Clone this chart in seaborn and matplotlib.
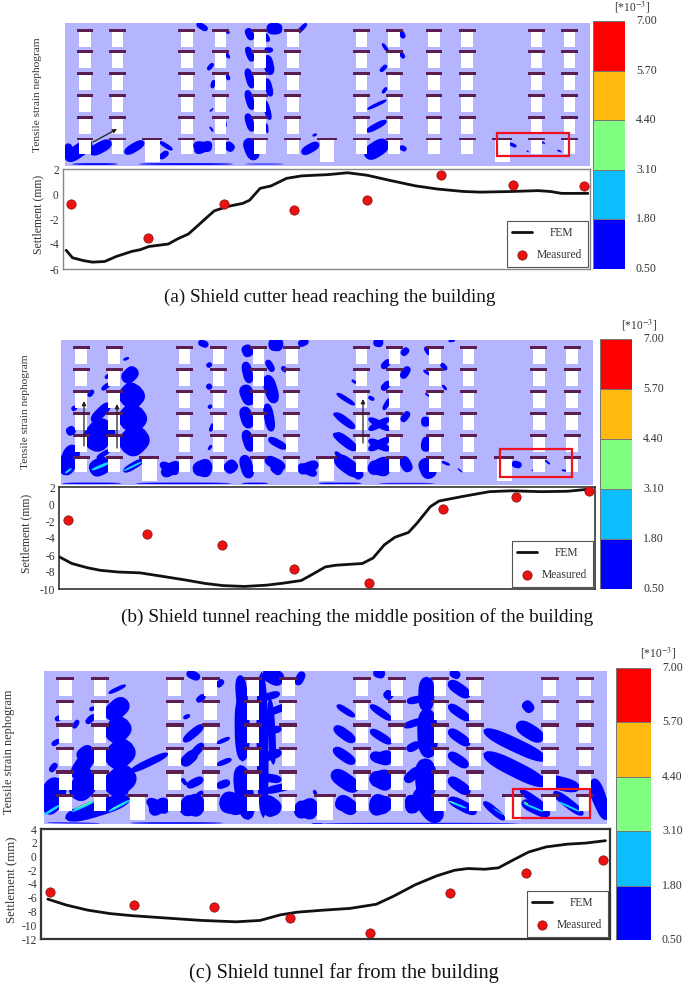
import numpy as np
import matplotlib
matplotlib.use("Agg")
import matplotlib.pyplot as plt
from matplotlib.colors import ListedColormap, BoundaryNorm
from matplotlib.patches import Rectangle
import seaborn as sns

W, H = 685, 984

# settlement curves, x is percent of the plot width
a_fem_x = [0.6, 1.8, 3.9, 5.6, 7.9, 10.1, 13, 14.7, 16.3, 20, 21.7, 23.8, 25.4, 27.1, 28.7, 31.2, 34.1, 35.4, 37.4, 39.5,
           42.4, 45.3, 50.3, 54, 57.7, 61.9, 66.9, 71, 76, 79.3, 85.1, 90.1, 92.5, 94.6, 99.6]
a_fem_y = [-4.5, -5.1, -5.33, -5.45, -5.4, -5.0, -4.6, -4.45, -4.2, -4.0, -3.6, -3.2, -2.6, -1.95, -1.35, -1.0, -0.75, -0.5,
           0.45, 0.65, 1.25, 1.45, 1.55, 1.7, 1.5, 1.1, 0.65, 0.4, 0.2, 0.15, 0.2, 0.27, 0.2, 0.05, 0.05]
a_meas_x = [1.6, 16.2, 30.5, 43.8, 57.7, 71.7, 85.3, 98.9]
a_meas_y = [-0.76, -3.5, -0.8, -1.25, -0.5, 1.5, 0.72, 0.62]

b_fem_x = [0, 2.4, 5.3, 7.7, 11, 15.1, 19.2, 23.2, 27.3, 30.6, 34.6, 38.7, 42, 45.2, 47.2, 49.7, 51.7, 56.6, 58.6, 60.7,
           62.7, 65.2, 66.8, 69.3, 70.9, 75.4, 80.3, 84.3, 90, 94.9, 99]
b_fem_y = [-6.2, -7, -7.5, -7.8, -8, -8.1, -8.5, -8.9, -9.35, -9.6, -9.7, -9.55, -9.3, -9, -8.3, -7.4, -7.2, -7, -6.35, -4.8,
           -3.9, -3.35, -2.25, -0.3, 0.35, 0.9, 1.45, 1.55, 1.45, 1.5, 1.75]
b_meas_x = [1.6, 16.4, 30.5, 43.8, 57.8, 71.7, 85.2, 98.8]
b_meas_y = [-1.9, -3.5, -4.8, -7.6, -9.3, -0.6, 0.85, 1.5]

c_fem_x = [1.2, 4.4, 8.2, 12.1, 15.9, 22, 28.2, 34.3, 38.5, 42, 45, 49.7, 54.3, 58.9, 61.9, 65.8, 69.6, 72.7, 75, 78,
           80.4, 83, 85.7, 88.8, 92.6, 95.7, 99.2]
c_fem_y = [-6.2, -7.05, -7.8, -8.3, -8.6, -8.95, -9.3, -9.5, -9.3, -8.5, -8.1, -7.8, -7.55, -6.95, -5.8, -4.1, -2.8, -2,
           -1.75, -1.85, -1.65, -0.5, 0.65, 1.4, 1.8, 1.95, 2.3]
c_meas_x = [1.5, 16.3, 30.4, 43.8, 57.8, 71.8, 85.3, 98.8]
c_meas_y = [-5.2, -7, -7.4, -8.9, -11.1, -5.25, -2.4, -0.5]

# building layout, percent of the nephogram
window_cols = [3.8, 10.0, 23.2, 29.6, 37.1, 43.4, 56.5, 62.7, 70.3, 76.6, 89.8, 96.1]
door_cols = [16.6, 49.9, 83.3]
floor_rows = [5.1, 20.2, 35.3, 50.6, 66.0, 81.1]

# colour scale
scale_levels = [7.00, 5.70, 4.40, 3.10, 1.80, 0.50]
scale_colors = ["#0000ff", "#0dbeff", "#80ff80", "#ffb90f", "#ff0000"]
band_values = [6.35, 5.05, 3.75, 2.45, 1.15]

a_blobs = [
    (150, 480, 210, 425, 30), (155, 430, 160, 480, 20), (205, 460, 255, 425, 25), (285, 460, 330, 425, 20),
    (365, 475, 385, 455, 14), (365, 425, 395, 450, 10), (442, 435, 485, 445, 22), (445, 455, 485, 430, 22),
    (515, 430, 535, 450, 20), (450, 70, 475, 90, 14), (475, 210, 488, 190, 10), (485, 265, 490, 240, 10),
    (515, 155, 525, 175, 8), (515, 220, 525, 240, 10), (515, 90, 525, 100, 8), (480, 335, 488, 325, 4),
    (480, 380, 488, 395, 5), (515, 360, 518, 380, 4), (565, 85, 578, 120, 18), (565, 140, 578, 185, 16),
    (565, 205, 578, 265, 18), (565, 270, 578, 330, 18), (565, 340, 578, 395, 18), (565, 415, 585, 480, 30),
    (605, 100, 615, 125, 12), (610, 165, 620, 225, 22), (610, 235, 620, 290, 16), (605, 300, 618, 360, 14),
    (610, 370, 612, 400, 6), (628, 68, 628, 104, 35), (680, 100, 702, 70, 10), (605, 150, 625, 150, 12),
    (690, 460, 730, 430, 20), (715, 408, 725, 402, 6), (840, 328, 885, 300, 8), (838, 395, 885, 362, 14),
    (835, 470, 888, 425, 35), (875, 130, 888, 155, 8), (915, 90, 925, 115, 12), (915, 155, 925, 175, 10),
    (870, 215, 885, 195, 10), (875, 280, 885, 262, 8), (915, 440, 930, 450, 12), (1003, 430, 1005, 435, 3),
    (1165, 430, 1182, 440, 8), (1205, 452, 1210, 456, 3), (1240, 425, 1247, 432, 4), (1275, 450, 1285, 456, 4),
    (165, 492, 270, 492, 4), (315, 492, 535, 492, 4), (560, 492, 650, 492, 2),
]
b_left_blobs = [
    (430, 20, 460, 32, 14), (205, 75, 222, 68, 6), (205, 140, 245, 100, 28), (205, 210, 255, 155, 50),
    (205, 280, 260, 220, 55), (205, 350, 270, 285, 55), (110, 260, 165, 205, 20), (100, 340, 165, 260, 55),
    (150, 130, 165, 118, 8), (140, 165, 165, 145, 10), (100, 185, 115, 165, 10), (50, 225, 65, 215, 10),
    (35, 295, 60, 280, 18), (25, 420, 60, 330, 35), (105, 410, 165, 380, 35), (205, 410, 265, 375, 14),
    (125, 370, 165, 345, 10), (315, 385, 370, 415, 18), (320, 420, 375, 385, 24), (415, 395, 470, 410, 30),
    (415, 410, 470, 385, 30), (515, 380, 540, 410, 28), (455, 95, 470, 85, 10), (455, 160, 470, 150, 12),
    (460, 220, 470, 210, 8), (465, 290, 475, 265, 8), (460, 345, 470, 330, 6), (570, 30, 585, 65, 22),
    (570, 80, 585, 145, 20), (565, 150, 590, 210, 28), (565, 215, 585, 280, 25), (570, 285, 590, 350, 22),
    (565, 360, 585, 430, 25), (635, 75, 655, 110, 14), (635, 120, 660, 205, 26), (635, 205, 650, 290, 20),
    (640, 310, 695, 340, 16), (630, 370, 690, 400, 22), (650, 390, 680, 415, 20), (680, 95, 695, 110, 10),
    (730, 30, 760, 15, 15), (640, 25, 685, 30, 28), (730, 390, 785, 420, 18), (730, 410, 790, 385, 22),
    (845, 175, 870, 190, 6), (835, 235, 870, 255, 10), (835, 295, 870, 325, 12), (840, 350, 870, 380, 10),
    (320, 400, 375, 400, 16), (415, 400, 470, 398, 20),
    (20, 445, 200, 445, 3), (240, 445, 530, 445, 3), (560, 445, 640, 445, 3), (790, 445, 860, 445, 3),
]
b_left_cyan = [(30, 415, 50, 400, 6), (110, 405, 165, 382, 9), (205, 408, 262, 380, 6)]
b_right_blobs = [
    (115, 20, 145, 25, 18), (140, 100, 165, 75, 14), (200, 60, 220, 40, 14), (200, 130, 222, 95, 16),
    (140, 165, 165, 140, 14), (145, 225, 165, 190, 10), (200, 260, 222, 230, 14), (5, 175, 60, 210, 10),
    (0, 235, 60, 280, 16), (0, 295, 65, 345, 20), (0, 365, 75, 420, 30), (55, 400, 80, 430, 20),
    (100, 250, 165, 285, 14), (100, 285, 165, 250, 14), (100, 315, 165, 345, 16), (100, 345, 165, 310, 16),
    (100, 390, 165, 410, 28), (100, 410, 165, 375, 28), (200, 365, 225, 410, 22), (100, 185, 118, 195, 8),
    (50, 135, 65, 145, 6), (270, 35, 285, 60, 10), (318, 85, 335, 105, 10), (265, 105, 285, 120, 6),
    (270, 175, 285, 185, 4), (322, 150, 335, 165, 6), (258, 260, 285, 260, 20), (258, 325, 290, 330, 30),
    (265, 370, 290, 430, 32), (320, 380, 345, 390, 6), (368, 400, 382, 412, 3), (530, 385, 560, 392, 14),
    (590, 405, 597, 408, 3), (630, 375, 645, 388, 4), (680, 405, 695, 408, 4), (0, 445, 80, 445, 3),
    (130, 445, 300, 445, 2), (340, 18, 360, 16, 6),
]
c_left_blobs = [
    (440, 22, 480, 40, 16), (530, 65, 550, 45, 12), (205, 85, 258, 60, 8), (200, 160, 262, 105, 35),
    (205, 225, 262, 165, 45), (205, 300, 275, 235, 50), (14, 440, 60, 340, 45), (100, 340, 160, 255, 30),
    (100, 400, 165, 320, 45), (115, 285, 160, 250, 30), (30, 320, 50, 295, 12), (35, 240, 60, 225, 10),
    (45, 165, 65, 155, 10), (100, 190, 115, 165, 10), (138, 175, 165, 150, 12), (148, 135, 165, 128, 8),
    (200, 380, 280, 315, 50), (270, 320, 385, 265, 14), (75, 460, 270, 400, 30), (125, 405, 165, 370, 10),
    (225, 390, 265, 375, 15), (320, 405, 385, 440, 20), (330, 445, 385, 405, 25), (420, 440, 490, 400, 35),
    (425, 405, 490, 440, 35), (430, 160, 450, 150, 8), (425, 300, 470, 260, 22), (430, 230, 490, 180, 16),
    (445, 285, 490, 235, 16), (470, 110, 495, 90, 12), (530, 235, 570, 218, 8), (530, 300, 575, 282, 10),
    (440, 365, 490, 340, 16), (425, 340, 440, 360, 8), (530, 365, 570, 350, 15), (470, 390, 490, 380, 8),
    (600, 30, 610, 150, 22), (605, 90, 608, 290, 28), (600, 300, 625, 465, 35), (665, 20, 670, 460, 22),
    (670, 18, 730, 50, 30), (790, 20, 770, 60, 16), (665, 100, 720, 85, 14), (670, 150, 760, 115, 14),
    (680, 200, 725, 190, 14), (665, 280, 725, 260, 18), (665, 335, 725, 345, 16), (670, 380, 760, 360, 15),
    (765, 420, 830, 450, 30), (765, 450, 830, 410, 30), (540, 400, 615, 430, 40), (670, 440, 720, 420, 30),
    (665, 400, 720, 440, 30), (820, 385, 830, 380, 10), (690, 100, 700, 300, 14), (12, 440, 60, 400, 30),
    (325, 425, 385, 425, 22), (420, 420, 490, 420, 24), (540, 420, 610, 425, 30), (670, 420, 720, 425, 22),
    (765, 435, 830, 430, 22),
    (20, 473, 180, 475, 2), (270, 474, 550, 474, 3), (815, 476, 850, 476, 2),
]
c_left_cyan = [(12, 450, 60, 420, 8), (95, 440, 165, 408, 8), (205, 440, 270, 405, 8)]
c_left_green = [(100, 432, 160, 410, 3), (215, 432, 240, 420, 2)]
c_right_blobs = [
    (160, 20, 195, 30, 18), (50, 120, 105, 155, 12), (42, 185, 105, 230, 20), (40, 250, 105, 295, 20),
    (35, 320, 115, 375, 30), (50, 400, 110, 440, 30), (150, 405, 210, 430, 35), (150, 440, 215, 405, 30),
    (255, 420, 295, 415, 35), (150, 120, 215, 165, 14), (150, 195, 215, 235, 16), (150, 270, 215, 290, 22),
    (150, 350, 215, 330, 30), (150, 330, 215, 365, 30), (160, 285, 215, 265, 20), (195, 100, 215, 80, 18),
    (320, 35, 318, 140, 30), (320, 130, 325, 280, 38), (315, 280, 320, 400, 40), (290, 370, 360, 470, 40),
    (260, 110, 310, 100, 14), (250, 185, 310, 165, 14), (260, 255, 300, 235, 16), (255, 350, 300, 310, 20),
    (385, 50, 450, 95, 22), (385, 120, 450, 165, 18), (385, 195, 450, 240, 20), (385, 265, 445, 305, 20),
    (385, 340, 450, 385, 22), (385, 400, 470, 445, 20), (490, 410, 555, 465, 14), (490, 195, 680, 285, 26),
    (490, 265, 680, 360, 30), (660, 340, 780, 370, 26), (590, 175, 670, 225, 28), (612, 110, 637, 140, 20),
    (390, 20, 420, 35, 16), (600, 375, 680, 430, 14), (605, 410, 690, 450, 22), (700, 380, 790, 450, 18),
    (820, 340, 860, 465, 25), (810, 370, 840, 440, 10), (45, 415, 105, 425, 24), (150, 420, 215, 420, 30),
    (255, 420, 300, 420, 30), (0, 475, 600, 475, 2),
]
c_right_cyan = [(385, 408, 440, 430, 6), (610, 415, 670, 440, 6), (715, 410, 780, 440, 6), (520, 430, 550, 450, 3)]
c_right_green = [(388, 408, 405, 416, 3), (610, 410, 625, 418, 4)]

sns.set_theme(style="white")
plt.rcParams["font.family"] = ["Liberation Serif", "DejaVu Serif"]
plt.rcParams["mathtext.fontset"] = "stix"
plt.rcParams["axes.unicode_minus"] = False
TEXT = "#333333"

fig = plt.figure(figsize=(W / 100, H / 100), dpi=100, facecolor="white")


def px_axes(left, top, right, bottom):
    return fig.add_axes([left / W, 1 - bottom / H, (right - left) / W, (bottom - top) / H])


def lens(ax, blobs, x0, y0, sx, sy, color, fat):
    # each patch is a rounded capsule between two read-off ends
    t = np.linspace(0, 1, 31)
    for x1, y1, x2, y2, w in blobs:
        p1 = np.array([x0 + x1 * sx, y0 + y1 * sy])
        p2 = np.array([x0 + x2 * sx, y0 + y2 * sy])
        d = p2 - p1
        n = np.array([-d[1], d[0]]) / max(np.hypot(*d), 1e-6)
        half = fat * w / 6 * np.sqrt(np.clip(1 - np.abs(2 * t - 1) ** 3, 0, 1))
        mid = p1[None, :] + t[:, None] * d[None, :]
        up = mid + half[:, None] * n
        down = mid - half[:, None] * n
        pts = np.vstack([up, down[::-1]])
        ax.fill(pts[:, 0], pts[:, 1], color=color, lw=0, zorder=2)


def nephogram(box, layers, arrows, red_box, fat):
    left, top, right, bottom = box
    ax = px_axes(left, top, right, bottom)
    ax.set_xlim(left, right)
    ax.set_ylim(bottom, top)
    ax.axis("off")
    ax.add_patch(Rectangle((left, top), right - left, bottom - top, fc="#b4b4ff", ec="none", zorder=0))
    for blobs, x0, y0, sx, sy, color in layers:
        lens(ax, blobs, x0, y0, sx, sy, color, fat if color == "#0000ff" else 1.0)
    pw = (right - left) / 100
    ph = (bottom - top) / 100
    for r in floor_rows:
        h = 10.2 if r == floor_rows[-1] else 11.5
        for c in window_cols:
            ax.add_patch(Rectangle((left + (c - 1.1) * pw, top + r * ph), 2.2 * pw, h * ph, fc="white", ec="none", zorder=3))
            ax.add_patch(Rectangle((left + (c - 1.6) * pw, top + (r - 1) * ph), 3.2 * pw, 2 * ph, fc="#5a1e50", ec="none", zorder=4))
    r = floor_rows[-1]
    for c in door_cols:
        ax.add_patch(Rectangle((left + (c - 1.4) * pw, top + r * ph), 2.8 * pw, 16.2 * ph, fc="white", ec="none", zorder=3))
        ax.add_patch(Rectangle((left + (c - 1.9) * pw, top + (r - 1) * ph), 3.8 * pw, 2 * ph, fc="#5a1e50", ec="none", zorder=4))
    for x1, y1, x2, y2 in arrows:
        ax.annotate("", xy=(x2, y2), xytext=(x1, y1), zorder=6,
                    arrowprops=dict(arrowstyle="-|>", color="#222222", lw=0.9, mutation_scale=6, shrinkA=0, shrinkB=0))
    x1, y1, x2, y2 = red_box
    ax.add_patch(Rectangle((x1, y1), x2 - x1, y2 - y1, fc="none", ec="#f01020", lw=1.6, zorder=5))


def settlement(box, fem_x, fem_y, meas_x, meas_y, ticks, edge, lw):
    ax = px_axes(*box)
    sns.lineplot(x=fem_x, y=fem_y, color="#111111", lw=2.0, label="FEM", ax=ax, zorder=3)
    sns.scatterplot(x=meas_x, y=meas_y, color="#ee1111", edgecolor="#7a1010", linewidth=0.5, s=45,
                    label="Measured", ax=ax, zorder=4)
    ax.set_xlim(0, 100)
    ax.set_ylim(ticks[-1], ticks[0])
    ax.set_xticks([])
    ax.set_yticks(ticks)
    ax.set_yticklabels([str(t) for t in ticks], fontsize=8.3, color=TEXT)
    ax.tick_params(axis="y", length=0, pad=3)
    for s in ax.spines.values():
        s.set_color(edge)
        s.set_linewidth(lw)
    leg = ax.legend(loc="lower right", fontsize=8.3, frameon=True, fancybox=False, framealpha=1,
                    edgecolor="#555555", borderaxespad=0.2, labelspacing=0.9, handlelength=1.7,
                    handletextpad=0.4, borderpad=0.5)
    leg.get_frame().set_linewidth(0.8)
    for t in leg.get_texts():
        t.set_color(TEXT)
    # FEM sits centred over the wider Measured label
    leg._legend_handle_box.get_children()[0].get_children()[0].sep = 13
    return ax


def scale_bar(box, label_x, title_x, title_y):
    ax = px_axes(*box)
    grid = np.array(band_values).reshape(-1, 1)
    cmap = ListedColormap(scale_colors)
    norm = BoundaryNorm(scale_levels[::-1], cmap.N)
    sns.heatmap(grid, cmap=cmap, norm=norm, cbar=False, xticklabels=False, yticklabels=False,
                linewidths=0.4, linecolor="#777777", ax=ax)
    left, top, right, bottom = box
    for i, lv in enumerate(scale_levels):
        y = top + (bottom - top) * i / 5
        fig.text(label_x / W, 1 - y / H, f"{lv:.2f}", fontsize=8.5, color=TEXT, va="center", ha="left")
    fig.text(title_x / W, 1 - title_y / H, r"[*10$^{-3}$]", fontsize=8.3, color=TEXT, va="center", ha="left")


def side_label(x, y, text, size):
    fig.text(x / W, 1 - y / H, text, rotation=90, fontsize=size, color=TEXT, ha="center", va="center")


def caption(x, y, text, size):
    fig.text(x / W, 1 - y / H, text, fontsize=size, color="#111111", ha="center", va="center")


# (a)
nephogram((65, 23, 590, 166),
          [(a_blobs, 0, 0, 0.437, 1 / 3, "#0000ff")],
          [(93, 142, 117, 129)], (497, 133, 569, 156), 1.35)
settlement((63, 169, 590, 269), a_fem_x, a_fem_y, a_meas_x, a_meas_y, [2, 0, -2, -4, -6], "#888888", 1.0)
scale_bar((593, 21, 625, 269), 636, 614, 7)
side_label(38, 95, "Tensile strain nephogram", 8.2)
side_label(38, 214, "Settlement (mm)", 8.5)
caption(330, 297, "(a) Shield cutter head reaching the building", 13.8)

# (b)
nephogram((61, 340, 593, 485),
          [(b_left_blobs, 55, 335, 1 / 3, 1 / 3, "#0000ff"), (b_right_blobs, 335, 335, 1 / 3, 1 / 3, "#0000ff"),
           (b_left_cyan, 55, 335, 1 / 3, 1 / 3, "#10d8ff")],
          [(84, 446, 84, 401), (117, 448, 117, 404), (363, 443, 363, 399)], (500, 449, 572, 477), 1.5)
settlement((59, 487, 595, 589), b_fem_x, b_fem_y, b_meas_x, b_meas_y, [2, 0, -2, -4, -6, -8, -10], "#333333", 1.2)
scale_bar((600, 339, 632, 589), 643, 621, 325)
side_label(26, 412, "Tensile strain nephogram", 8.2)
side_label(26, 533, "Settlement (mm)", 8.5)
caption(357, 617, "(b) Shield tunnel reaching the middle position of the building", 13.9)

# (c)
nephogram((44, 671, 607, 824),
          [(c_left_blobs, 40, 665, 1 / 3, 1 / 3, "#0000ff"), (c_right_blobs, 320, 665, 1 / 3, 1 / 3, "#0000ff"),
           (c_left_cyan, 40, 665, 1 / 3, 1 / 3, "#10d8ff"), (c_right_cyan, 320, 665, 1 / 3, 1 / 3, "#10d8ff"),
           (c_left_green, 40, 665, 1 / 3, 1 / 3, "#80ff80"), (c_right_green, 320, 665, 1 / 3, 1 / 3, "#80ff80")],
          [], (513, 789, 590, 818), 1.6)
settlement((41, 829, 610, 939), c_fem_x, c_fem_y, c_meas_x, c_meas_y, [4, 2, 0, -2, -4, -6, -8, -10, -12], "#333333", 1.6)
scale_bar((616, 668, 651, 940), 662, 640, 653)
side_label(9, 752, "Tensile strain nephogram", 8.8)
side_label(11, 880, "Settlement (mm)", 9.2)
caption(344, 973, "(c) Shield tunnel far from the building", 14.6)

fig.savefig("out.png", dpi=100)
